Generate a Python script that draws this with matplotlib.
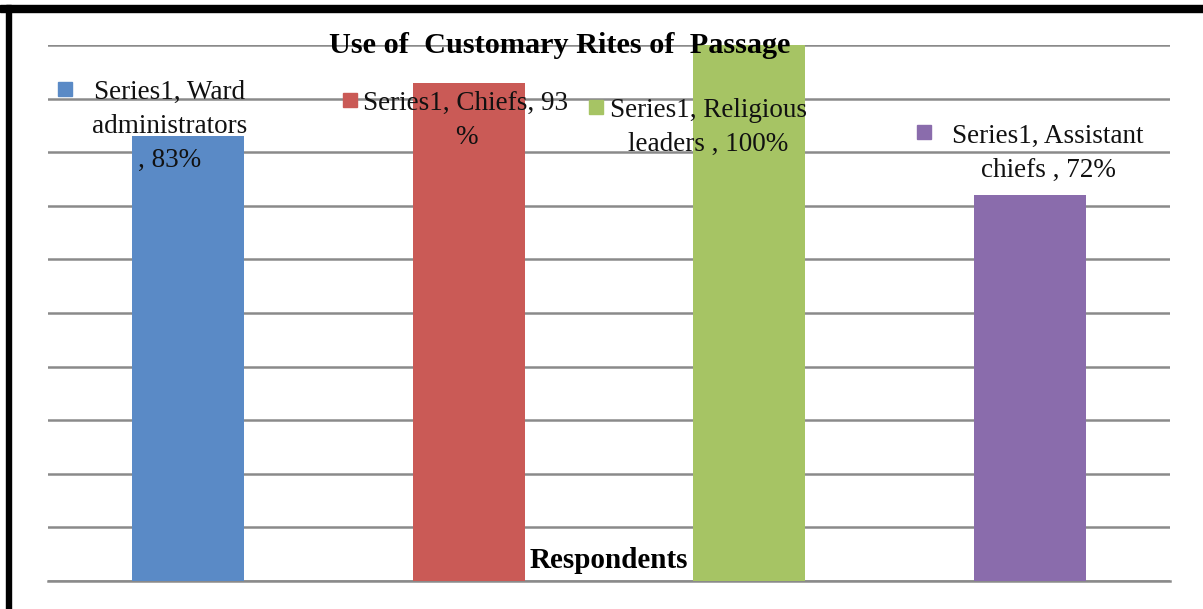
import matplotlib.pyplot as plt
from matplotlib.patches import Rectangle

# data
categories = ["Ward administrators", "Chiefs", "Religious leaders", "Assistant chiefs"]
values = [83, 93, 100, 72]
colors = ["#5A8AC6", "#CA5A56", "#A6C464", "#8A6CAC"]
label_lines = [
    ["Series1, Ward", "administrators", ", 83%"],
    ["Series1, Chiefs, 93", "%"],
    ["Series1, Religious", "leaders , 100%"],
    ["Series1, Assistant", "chiefs , 72%"],
]

# label layout (data coords): text centre x, first baseline y, key square x, y
label_pos = [(-0.065, 89.9, -0.438, 91.7),
             (0.99, 87.9, 0.578, 89.7),
             (1.855, 86.6, 1.452, 88.5),
             (3.065, 81.7, 2.623, 83.7)]

W, H = 1203, 609
fig = plt.figure(figsize=(W / 100, H / 100), dpi=100)
fig.patch.set_facecolor("white")

x0, x1, ytop, ybot = 48, 1170, 45, 581
ax = fig.add_axes([x0 / W, (H - ybot) / H, (x1 - x0) / W, (ybot - ytop) / H])

serif = ["Liberation Serif", "DejaVu Serif"]

pos = range(len(values))
ax.bar(pos, values, width=0.4, color=colors, zorder=3)
ax.set_xlim(-0.5, 3.5)
ax.set_ylim(0, 100)
ax.set_yticks(range(0, 101, 10))
ax.grid(axis="y", color="#8A8A8A", linewidth=1.8, zorder=0)
ax.tick_params(left=False, bottom=False, labelleft=False, labelbottom=False)
for s in ["top", "left", "right"]:
    ax.spines[s].set_visible(False)
ax.spines["bottom"].set_color("#8A8A8A")
ax.spines["bottom"].set_linewidth(1.8)

# data labels with legend keys
line_step = 34 / 5.36
for lines, (tx, ty, sx, sy), c in zip(label_lines, label_pos, colors):
    for i, ln in enumerate(lines):
        ax.text(tx, ty - i * line_step, ln, ha="center", va="baseline",
                fontsize=19.5, family=serif, color="#111111", zorder=5)
    ax.plot([sx], [sy], marker="s", markersize=10, color=c,
            clip_on=False, zorder=5)

fig.text(560 / W, 1 - 53 / H, "Use of  Customary Rites of  Passage",
         ha="center", va="baseline", fontsize=21.8, fontweight="bold",
         family=serif, color="black")
ax.text(1.5, (581 - 568) / 5.36, "Respondents", ha="center", va="baseline",
        fontsize=21, fontweight="bold", family=serif, color="black", zorder=5)

# black frame edges
fig.patches.append(Rectangle((0, 1 - 12 / H), 1, 7 / H, transform=fig.transFigure,
                             color="black", zorder=10))
fig.patches.append(Rectangle((6 / W, 0), 5 / W, 1 - 5 / H, transform=fig.transFigure,
                             color="black", zorder=10))

fig.savefig("out.png", dpi=100)
